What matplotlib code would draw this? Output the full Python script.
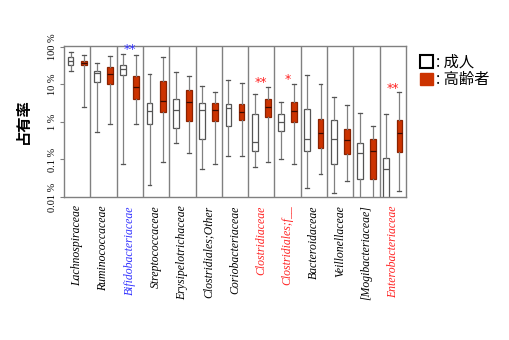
import matplotlib
matplotlib.use("Agg")
import matplotlib.pyplot as plt
from matplotlib.patches import Patch

# 科名
taxa = ["Lachnospiraceae", "Ruminococcaceae", "Bifidobacteriaceae", "Streptococcaceae",
        "Erysipelotrichaceae", "Clostridiales;Other", "Coriobacteriaceae", "Clostridiaceae",
        "Clostridiales;f__", "Bacteroidaceae", "Veillonellaceae", "[Mogibacteriaceae]",
        "Enterobacteriaceae"]
label_colors = ["black", "black", "#3333ff", "black", "black", "black", "black",
                "#ff2222", "#ff2222", "black", "black", "black", "#ff2222"]
signif = ["", "", "**", "", "", "", "", "**", "*", "", "", "", "**"]

# 成人 (%)
adult_lo = [22, 0.55, 0.075, 0.021, 0.27, 0.055, 0.125, 0.064, 0.1, 0.0178, 0.0126, 0.001, 0.0005]
adult_q1 = [32, 11.5, 18, 0.87, 0.68, 0.34, 0.78, 0.167, 0.59, 0.167, 0.074, 0.0295, 0.002]
adult_med = [41, 19.5, 25, 1.97, 2.1, 2.1, 2.32, 0.285, 0.98, 0.35, 0.35, 0.149, 0.056]
adult_q3 = [53, 22, 32, 3.16, 4.05, 3.16, 3.04, 1.6, 1.6, 2.23, 1.09, 0.28, 0.11]
adult_hi = [72, 37, 66, 18.9, 21, 8.8, 13.3, 5.6, 3.37, 17.4, 4.6, 1.7, 1.64]

# 高齢者 (%)
old_lo = [2.5, 0.87, 0.87, 0.087, 0.145, 0.074, 0.127, 0.083, 0.075, 0.042, 0.0266, 0.001, 0.0148]
old_q1 = [32, 10.4, 4, 1.8, 1.06, 1.06, 1.13, 1.39, 1.02, 0.205, 0.138, 0.0295, 0.158]
old_med = [36, 19, 8.3, 3.65, 3.3, 2.1, 1.8, 2.47, 1.97, 0.5, 0.32, 0.17, 0.52]
old_q3 = [41, 28.5, 17, 12, 6.9, 3.16, 3.04, 4.1, 3.37, 1.2, 0.645, 0.355, 1.09]
old_hi = [59, 56, 62, 54, 16.4, 6.1, 10.9, 8.5, 10.4, 10.4, 2.85, 0.79, 6.1]

yticks = [0.01, 0.1, 1, 10, 100]
ytick_labels = ["0.01 %", "0.1 %", "1 %", "10 %", "100 %"]

red = "#cc3300"
grey = "#808080"

def make_stats(lo, q1, med, q3, hi):
    return [dict(whislo=a, q1=b, med=c, q3=d, whishi=e, fliers=[])
            for a, b, c, d, e in zip(lo, q1, med, q3, hi)]

fig = plt.figure(figsize=(5.1, 3.4), dpi=100)
ax = fig.add_axes([0.1255, 0.4206, 0.6706, 0.4441])

n = len(taxa)
pos = list(range(n))

ax.bxp(make_stats(adult_lo, adult_q1, adult_med, adult_q3, adult_hi),
       positions=[p - 0.25 for p in pos], widths=0.22, capwidths=0.15,
       patch_artist=True, showfliers=False,
       boxprops=dict(facecolor="white", edgecolor="#555555", linewidth=0.9),
       medianprops=dict(color="#555555", linewidth=0.9),
       whiskerprops=dict(color=grey, linewidth=0.9),
       capprops=dict(color="#555555", linewidth=0.9))
ax.bxp(make_stats(old_lo, old_q1, old_med, old_q3, old_hi),
       positions=[p + 0.25 for p in pos], widths=0.22, capwidths=0.15,
       patch_artist=True, showfliers=False,
       boxprops=dict(facecolor=red, edgecolor="#8a2200", linewidth=0.9),
       medianprops=dict(color="#3a0a00", linewidth=0.9),
       whiskerprops=dict(color=grey, linewidth=0.9),
       capprops=dict(color="#555555", linewidth=0.9))

# 区切り線
for i in range(n - 1):
    ax.axvline(i + 0.5, color=grey, linewidth=1)

# 有意差
for i, s in enumerate(signif):
    if s:
        top = max(adult_hi[i], old_hi[i]) * 1.3
        ax.text(i, top, s, color=label_colors[i], ha="center", va="center",
                fontsize=9)

ax.set_yscale("log")
ax.set_ylim(0.01, 105)
ax.set_xlim(-0.5, n - 0.5)
ax.set_yticks(yticks)
ax.set_yticklabels(ytick_labels, rotation=90, va="center",
                   family="Liberation Serif", fontsize=7.5)
ax.minorticks_off()
ax.tick_params(axis="y", length=3, color=grey, pad=2)
ax.set_xticks(pos)
ax.set_xticklabels(taxa, rotation=90, va="top", ha="center",
                   family="Liberation Serif", style="italic", fontsize=8.5)
for t, c in zip(ax.get_xticklabels(), label_colors):
    t.set_color(c)
ax.tick_params(axis="x", length=0, pad=6)
for sp in ax.spines.values():
    sp.set_color(grey)
    sp.set_linewidth(1)

ax.set_ylabel("占有率", family=["Noto Sans CJK JP", "DejaVu Sans"],
              fontsize=11, fontweight="bold", labelpad=12)

handles = [Patch(facecolor="white", edgecolor="black", linewidth=1.5),
           Patch(facecolor=red, edgecolor=red)]
fig.legend(handles, [": 成人", ": 高齢者"], loc="upper left",
           bbox_to_anchor=(0.812, 0.86), frameon=False,
           handlelength=0.85, handleheight=0.85, handletextpad=0.15,
           labelspacing=0.05, borderaxespad=0,
           prop=dict(family=["Noto Sans CJK JP", "DejaVu Sans"], size=11))

fig.savefig("out.png", dpi=100)
